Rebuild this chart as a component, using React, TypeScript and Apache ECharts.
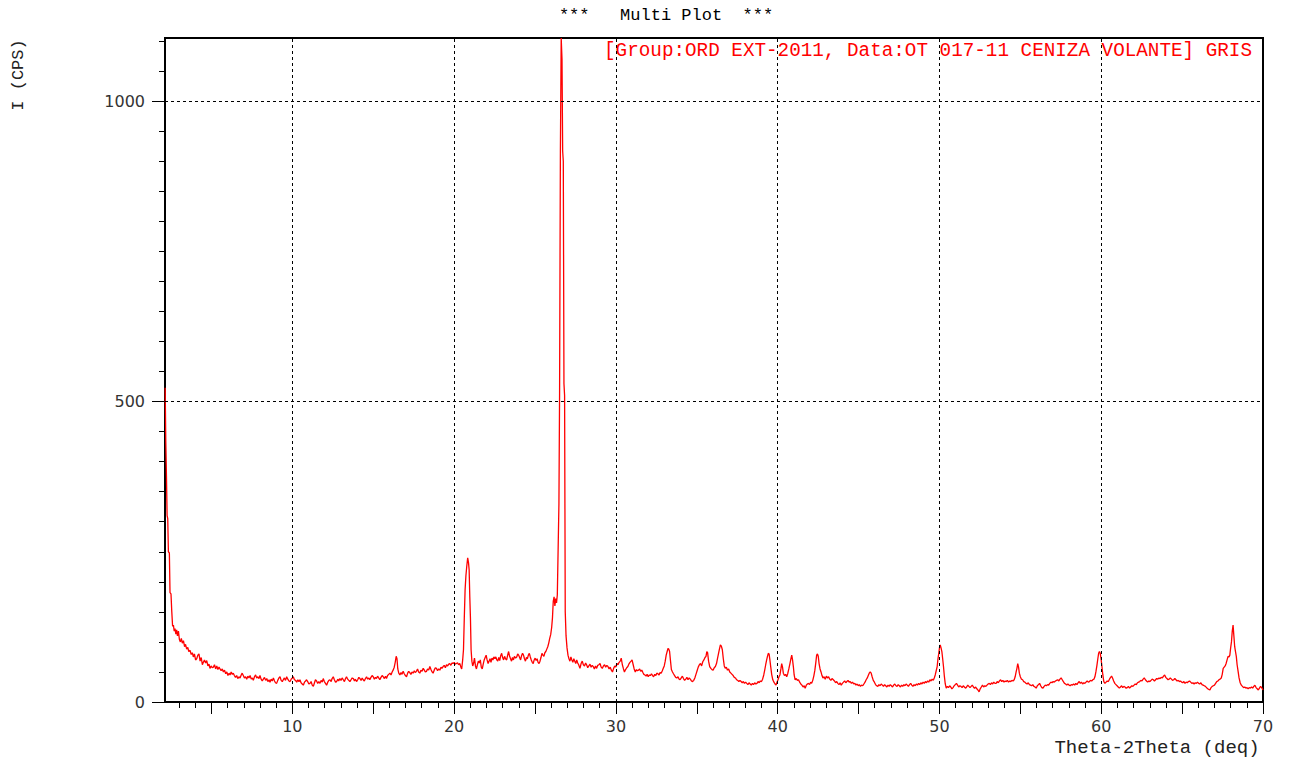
import React, { useEffect, useRef } from "react";
import * as echarts from "echarts";

// Diffractogram: [2θ (deg), intensity (CPS)]
const scanLow: [number, number][] = [
  [2.14, 523], [2.18, 432], [2.22, 376], [2.26, 310], [2.3, 305], [2.34, 250], [2.4, 248], [2.44, 182],
  [2.5, 180], [2.55, 150], [2.6, 126], [2.65, 128], [2.7, 118], [2.75, 122], [2.8, 113], [2.85, 120],
  [2.9, 110], [2.96, 118], [3.02, 104], [3.08, 100], [3.14, 106], [3.2, 98], [3.27, 102], [3.34, 92],
  [3.4, 96], [3.47, 88], [3.54, 91], [3.6, 84], [3.68, 86], [3.75, 79], [3.82, 82], [3.88, 75],
  [3.95, 80], [4.02, 70], [4.09, 72], [4.16, 78], [4.23, 80], [4.3, 68], [4.37, 74], [4.44, 62],
  [4.5, 66], [4.57, 70], [4.64, 65], [4.71, 69], [4.78, 60], [4.85, 63], [4.91, 56], [4.98, 60],
  [5.05, 57], [5.12, 58], [5.19, 62], [5.26, 55], [5.33, 60], [5.4, 54], [5.47, 58], [5.53, 55],
  [5.6, 52], [5.67, 55], [5.74, 50], [5.81, 53], [5.88, 47], [5.95, 50], [6.02, 44], [6.09, 48],
  [6.15, 45], [6.22, 50], [6.29, 46], [6.35, 48], [6.42, 44], [6.49, 41], [6.56, 44], [6.63, 39],
  [6.7, 42], [6.77, 40], [6.84, 45], [6.9, 48], [6.97, 44], [7.04, 40], [7.11, 42], [7.18, 38],
  [7.25, 43], [7.32, 40], [7.39, 44], [7.46, 38], [7.53, 40], [7.59, 36], [7.66, 42], [7.73, 45],
  [7.8, 40], [7.87, 42], [7.94, 39], [8.0, 44], [8.07, 38], [8.14, 35], [8.21, 38], [8.28, 41],
  [8.35, 36], [8.42, 39], [8.49, 34], [8.56, 37], [8.62, 33], [8.69, 38], [8.76, 35], [8.83, 40],
  [8.9, 35], [8.96, 32], [9.03, 31], [9.1, 36], [9.17, 40], [9.24, 42], [9.31, 36], [9.38, 34],
  [9.44, 37], [9.51, 40], [9.58, 36], [9.65, 42], [9.72, 38], [9.79, 35], [9.86, 34], [9.93, 38],
  [10.0, 40], [10.06, 42], [10.13, 37], [10.2, 36], [10.27, 33], [10.34, 37], [10.41, 34], [10.47, 37],
  [10.54, 32], [10.61, 30], [10.68, 28], [10.75, 33], [10.82, 35], [10.88, 37], [10.95, 34], [11.02, 30],
  [11.09, 31], [11.16, 34], [11.23, 28], [11.3, 26], [11.37, 32], [11.43, 37], [11.5, 35], [11.57, 31],
  [11.64, 34], [11.71, 31], [11.78, 36], [11.85, 33], [11.91, 39], [11.98, 34], [12.05, 31], [12.12, 28],
  [12.19, 33], [12.26, 36], [12.33, 37], [12.4, 34], [12.46, 39], [12.53, 42], [12.6, 37], [12.67, 33],
  [12.74, 34], [12.81, 38], [12.87, 35], [12.94, 39], [13.01, 36], [13.08, 40], [13.15, 37], [13.22, 34],
  [13.29, 39], [13.35, 42], [13.42, 38], [13.49, 36], [13.56, 34], [13.63, 37], [13.7, 40], [13.77, 39],
  [13.84, 35], [13.9, 38], [13.97, 34], [14.04, 37], [14.11, 41], [14.18, 39], [14.25, 36], [14.32, 40],
  [14.38, 37], [14.45, 35], [14.52, 39], [14.59, 42], [14.66, 38], [14.73, 40], [14.79, 37], [14.86, 41],
  [14.93, 44], [15.0, 42], [15.07, 38], [15.14, 41], [15.2, 39], [15.27, 43], [15.34, 40], [15.41, 37],
  [15.48, 41], [15.55, 44], [15.62, 42], [15.69, 39], [15.76, 43], [15.82, 39], [15.89, 44], [15.96, 46],
];

const scanQuartz: [number, number][] = [
  [16.03, 48], [16.1, 45], [16.17, 50], [16.23, 53], [16.3, 58], [16.36, 66], [16.42, 76], [16.47, 72],
  [16.52, 55], [16.58, 48], [16.65, 45], [16.72, 49], [16.78, 46], [16.85, 51], [16.92, 47], [16.99, 44],
  [17.06, 42], [17.13, 48], [17.19, 51], [17.26, 49], [17.33, 46], [17.4, 50], [17.47, 48], [17.54, 52],
  [17.6, 49], [17.67, 51], [17.74, 55], [17.81, 50], [17.88, 48], [17.95, 53], [18.02, 51], [18.09, 56],
  [18.16, 53], [18.22, 50], [18.29, 51], [18.36, 55], [18.43, 53], [18.5, 59], [18.57, 54], [18.64, 50],
  [18.7, 48], [18.77, 53], [18.84, 57], [18.91, 56], [18.98, 52], [19.05, 55], [19.12, 53], [19.19, 58],
  [19.25, 56], [19.32, 59], [19.39, 61], [19.46, 57], [19.53, 62], [19.6, 60], [19.67, 63], [19.73, 64],
  [19.8, 61], [19.87, 65], [19.94, 64], [20.01, 66], [20.07, 63], [20.14, 64], [20.21, 65], [20.28, 62],
  [20.35, 64], [20.42, 58], [20.47, 55], [20.53, 70], [20.58, 87], [20.63, 140], [20.68, 187], [20.73, 210],
  [20.78, 225], [20.84, 240], [20.89, 232], [20.93, 220], [20.97, 175], [21.01, 140], [21.05, 87], [21.1, 68],
  [21.15, 60], [21.2, 64], [21.26, 73], [21.32, 60], [21.38, 55], [21.44, 62], [21.5, 68], [21.56, 65],
  [21.62, 70], [21.68, 58], [21.74, 55], [21.8, 63], [21.86, 70], [21.92, 74], [21.98, 78], [22.04, 70],
  [22.1, 64], [22.16, 68], [22.22, 72], [22.28, 66], [22.34, 73], [22.4, 70], [22.46, 75], [22.52, 72],
  [22.58, 75], [22.64, 70], [22.7, 68], [22.76, 74], [22.82, 69], [22.88, 77], [22.94, 81], [23.0, 74],
  [23.06, 70], [23.12, 76], [23.18, 72], [23.25, 70], [23.31, 78], [23.37, 84], [23.43, 76], [23.49, 72],
  [23.55, 68], [23.61, 74], [23.67, 70], [23.73, 76], [23.8, 73], [23.87, 75], [23.93, 80], [23.99, 78],
  [24.05, 74], [24.11, 70], [24.17, 77], [24.23, 81], [24.29, 78], [24.35, 72], [24.41, 68], [24.47, 74],
  [24.53, 72], [24.59, 78], [24.65, 81], [24.71, 75], [24.77, 70], [24.83, 66], [24.89, 64], [24.95, 70],
  [25.01, 73], [25.07, 69], [25.13, 72], [25.19, 66], [25.25, 64], [25.31, 68], [25.37, 74], [25.43, 81],
  [25.49, 78], [25.55, 76], [25.61, 82], [25.67, 84], [25.73, 88], [25.79, 92], [25.85, 98], [25.91, 106],
  [25.97, 112], [26.03, 124], [26.08, 140], [26.13, 168], [26.18, 175], [26.23, 160], [26.28, 172], [26.33, 165],
  [26.38, 178], [26.43, 254], [26.48, 330], [26.52, 513], [26.57, 916], [26.62, 1105], [26.67, 1070], [26.71, 917],
  [26.75, 900], [26.79, 530], [26.83, 510], [26.87, 150], [26.92, 110], [26.98, 90], [27.04, 78], [27.1, 72],
  [27.16, 68], [27.22, 75], [27.28, 70], [27.34, 66], [27.4, 72], [27.46, 68], [27.52, 64], [27.58, 70],
  [27.64, 65], [27.7, 62], [27.78, 56], [27.85, 64], [27.92, 68], [27.99, 62], [28.06, 60], [28.13, 65],
  [28.19, 62], [28.26, 57], [28.33, 60], [28.4, 63], [28.47, 58], [28.54, 61], [28.6, 59], [28.67, 55],
  [28.74, 60], [28.81, 56], [28.88, 61], [28.95, 62], [29.02, 64], [29.09, 58], [29.16, 56], [29.23, 60],
  [29.3, 62], [29.37, 58], [29.44, 61], [29.51, 59], [29.58, 55], [29.65, 58], [29.72, 53], [29.79, 50],
  [29.86, 56], [29.93, 60],
];

const scanMid: [number, number][] = [
  [30.0, 58], [30.06, 64], [30.13, 62], [30.2, 66], [30.27, 68], [30.33, 73], [30.4, 62], [30.47, 55],
  [30.53, 50], [30.6, 54], [30.67, 57], [30.74, 59], [30.8, 63], [30.87, 66], [30.94, 68], [31.0, 70],
  [31.07, 62], [31.13, 55], [31.2, 50], [31.27, 54], [31.33, 52], [31.4, 53], [31.47, 55], [31.53, 51],
  [31.6, 53], [31.67, 49], [31.73, 46], [31.8, 45], [31.87, 43], [31.93, 46], [32.0, 42], [32.07, 45],
  [32.13, 44], [32.2, 47], [32.27, 44], [32.33, 42], [32.4, 46], [32.47, 44], [32.53, 48], [32.6, 47],
  [32.67, 45], [32.73, 49], [32.8, 48], [32.87, 52], [32.93, 56], [32.99, 60], [33.05, 68], [33.11, 78],
  [33.17, 84], [33.22, 89], [33.27, 88], [33.32, 84], [33.37, 70], [33.43, 54], [33.5, 50], [33.56, 47],
  [33.63, 44], [33.7, 41], [33.77, 40], [33.84, 42], [33.91, 38], [33.97, 37], [34.04, 40], [34.11, 43],
  [34.18, 39], [34.25, 36], [34.32, 38], [34.39, 41], [34.46, 37], [34.53, 40], [34.6, 38], [34.67, 35],
  [34.74, 34], [34.81, 36], [34.88, 40], [34.95, 46], [35.02, 52], [35.09, 58], [35.16, 62], [35.23, 64],
  [35.3, 60], [35.37, 67], [35.44, 70], [35.51, 74], [35.57, 76], [35.62, 84], [35.67, 82], [35.73, 68],
  [35.8, 59], [35.87, 56], [35.94, 54], [36.01, 53], [36.08, 57], [36.15, 59], [36.22, 64], [36.28, 72],
  [36.34, 80], [36.4, 88], [36.46, 95], [36.52, 93], [36.58, 87], [36.64, 72], [36.7, 60], [36.76, 56],
  [36.83, 58], [36.9, 53], [36.97, 55], [37.04, 50], [37.11, 48], [37.18, 46], [37.25, 44], [37.32, 41],
  [37.39, 40], [37.46, 37], [37.53, 36], [37.6, 34], [37.67, 36], [37.74, 34], [37.81, 32], [37.88, 34],
  [37.95, 31], [38.02, 33], [38.09, 31], [38.16, 29], [38.23, 32], [38.3, 30], [38.37, 28], [38.44, 31],
  [38.51, 29], [38.58, 32], [38.65, 30], [38.72, 31], [38.79, 34], [38.86, 32], [38.93, 35], [39.0, 34],
  [39.07, 38], [39.14, 45], [39.2, 53], [39.26, 62], [39.32, 70], [39.37, 76], [39.42, 81], [39.47, 80],
  [39.52, 70], [39.57, 59], [39.63, 46], [39.7, 37], [39.77, 33], [39.84, 30], [39.9, 28], [39.96, 33],
  [40.02, 37], [40.08, 42], [40.14, 45], [40.2, 55], [40.25, 64], [40.3, 58], [40.35, 48], [40.42, 44],
  [40.49, 46], [40.56, 42], [40.62, 47], [40.69, 55], [40.76, 64], [40.82, 72], [40.87, 78], [40.92, 70],
  [40.97, 59], [41.02, 45], [41.08, 37], [41.15, 39], [41.22, 36], [41.29, 37], [41.36, 33], [41.43, 30],
  [41.5, 28], [41.57, 25], [41.64, 27], [41.7, 23], [41.77, 28], [41.84, 30], [41.9, 31], [41.97, 29],
  [42.04, 33], [42.1, 31], [42.17, 36], [42.24, 44], [42.3, 53], [42.36, 66], [42.41, 78], [42.46, 80],
  [42.51, 76], [42.56, 64], [42.62, 55], [42.68, 50], [42.74, 44], [42.8, 40], [42.87, 42], [42.94, 38],
  [43.01, 43], [43.08, 40], [43.15, 42], [43.22, 38], [43.29, 36], [43.36, 39], [43.44, 37], [43.51, 35],
  [43.58, 32], [43.65, 34], [43.72, 31], [43.79, 29], [43.86, 32], [43.93, 28], [44.0, 31], [44.07, 33],
  [44.14, 35], [44.21, 32], [44.28, 34], [44.35, 36], [44.42, 33], [44.49, 34], [44.56, 31], [44.63, 33],
  [44.7, 30], [44.77, 31], [44.84, 28], [44.91, 30], [44.98, 27], [45.05, 29], [45.12, 26], [45.19, 28],
  [45.26, 27], [45.33, 30], [45.4, 33], [45.47, 37], [45.54, 40], [45.6, 44], [45.66, 48], [45.72, 50],
  [45.78, 48], [45.84, 42], [45.91, 36], [45.98, 33], [46.05, 29], [46.12, 27], [46.19, 26], [46.26, 29],
  [46.33, 27], [46.4, 30], [46.47, 28], [46.54, 26], [46.61, 29], [46.68, 27], [46.75, 25], [46.82, 28],
  [46.89, 26], [46.96, 29], [47.03, 27], [47.1, 25], [47.17, 28], [47.24, 30], [47.31, 27], [47.38, 26],
  [47.45, 29], [47.52, 27], [47.59, 25], [47.66, 28], [47.73, 26], [47.8, 29], [47.87, 27], [47.94, 30],
  [48.01, 28], [48.08, 26], [48.15, 29], [48.22, 31], [48.29, 28], [48.36, 26], [48.43, 29], [48.5, 27],
  [48.57, 30], [48.64, 28], [48.71, 31], [48.78, 29], [48.85, 32], [48.92, 30], [48.99, 33], [49.06, 31],
  [49.13, 34], [49.2, 32], [49.27, 35], [49.34, 33], [49.41, 37], [49.48, 35], [49.55, 38], [49.62, 36],
  [49.68, 40], [49.74, 45], [49.8, 52], [49.86, 59], [49.91, 72], [49.96, 81],
];

const scanHigh: [number, number][] = [
  [50.01, 92], [50.05, 95], [50.1, 90], [50.15, 84], [50.2, 72], [50.25, 59], [50.3, 44], [50.36, 30],
  [50.42, 23], [50.49, 26], [50.56, 24], [50.63, 27], [50.7, 25], [50.77, 22], [50.84, 24], [50.91, 27],
  [50.98, 29], [51.05, 31], [51.12, 28], [51.19, 25], [51.26, 27], [51.33, 26], [51.4, 24], [51.47, 27],
  [51.54, 25], [51.61, 23], [51.68, 25], [51.75, 28], [51.82, 26], [51.89, 24], [51.96, 26], [52.03, 28],
  [52.1, 25], [52.17, 23], [52.24, 25], [52.31, 22], [52.38, 20], [52.45, 17], [52.52, 22], [52.59, 25],
  [52.66, 28], [52.73, 25], [52.8, 27], [52.87, 26], [52.94, 28], [53.01, 30], [53.08, 31], [53.15, 29],
  [53.22, 32], [53.29, 30], [53.36, 33], [53.43, 31], [53.5, 31], [53.57, 34], [53.64, 32], [53.71, 35],
  [53.78, 37], [53.85, 34], [53.92, 36], [53.99, 33], [54.06, 35], [54.13, 34], [54.2, 36], [54.27, 33],
  [54.34, 35], [54.41, 34], [54.48, 36], [54.55, 35], [54.62, 37], [54.68, 42], [54.74, 50], [54.79, 56],
  [54.84, 64], [54.89, 58], [54.94, 48], [55.0, 42], [55.07, 38], [55.14, 37], [55.21, 34], [55.28, 33],
  [55.35, 31], [55.42, 30], [55.49, 32], [55.56, 29], [55.63, 28], [55.7, 27], [55.77, 29], [55.84, 26],
  [55.91, 25], [55.98, 23], [56.05, 27], [56.12, 29], [56.19, 31], [56.26, 27], [56.33, 24], [56.4, 23],
  [56.47, 26], [56.54, 28], [56.61, 27], [56.68, 29], [56.75, 28], [56.82, 31], [56.89, 33], [56.96, 32],
  [57.03, 34], [57.1, 33], [57.17, 35], [57.24, 36], [57.31, 37], [57.38, 35], [57.45, 38], [57.52, 40],
  [57.59, 37], [57.66, 34], [57.73, 31], [57.8, 30], [57.87, 28], [57.94, 30], [58.01, 28], [58.08, 27],
  [58.15, 29], [58.22, 28], [58.29, 30], [58.36, 28], [58.43, 31], [58.5, 29], [58.57, 32], [58.64, 34],
  [58.71, 31], [58.78, 33], [58.85, 30], [58.92, 32], [58.99, 31], [59.06, 33], [59.13, 35], [59.2, 33],
  [59.27, 34], [59.34, 36], [59.41, 35], [59.48, 37], [59.55, 38], [59.61, 42], [59.67, 50], [59.73, 60],
  [59.79, 72], [59.84, 81], [59.89, 84], [59.94, 81], [59.99, 72], [60.04, 60], [60.1, 45], [60.16, 34],
  [60.23, 31], [60.3, 33], [60.37, 35], [60.44, 34], [60.51, 38], [60.58, 41], [60.64, 43], [60.7, 40],
  [60.77, 35], [60.84, 31], [60.91, 29], [60.98, 27], [61.05, 25], [61.12, 23], [61.19, 25], [61.26, 27],
  [61.33, 24], [61.4, 26], [61.47, 25], [61.54, 23], [61.61, 24], [61.68, 26], [61.75, 23], [61.82, 25],
  [61.89, 27], [61.96, 26], [62.03, 28], [62.1, 30], [62.17, 29], [62.24, 32], [62.31, 33], [62.38, 34],
  [62.45, 36], [62.52, 35], [62.59, 38], [62.66, 40], [62.73, 37], [62.8, 35], [62.87, 33], [62.94, 35],
  [63.01, 34], [63.08, 36], [63.15, 38], [63.22, 37], [63.29, 35], [63.36, 37], [63.43, 39], [63.5, 38],
  [63.57, 40], [63.64, 39], [63.71, 41], [63.78, 40], [63.85, 43], [63.92, 45], [63.99, 41], [64.06, 39],
  [64.13, 37], [64.2, 38], [64.27, 40], [64.34, 38], [64.41, 36], [64.48, 37], [64.55, 39], [64.62, 37],
  [64.69, 35], [64.76, 36], [64.83, 34], [64.9, 35], [64.97, 33], [65.04, 32], [65.11, 34], [65.18, 31],
  [65.25, 33], [65.32, 32], [65.39, 34], [65.46, 35], [65.53, 33], [65.6, 31], [65.67, 32], [65.74, 30],
  [65.81, 32], [65.88, 31], [65.95, 33], [66.02, 31], [66.09, 30], [66.16, 32], [66.23, 29], [66.3, 28],
  [66.37, 27], [66.44, 26], [66.51, 24], [66.58, 22], [66.65, 21], [66.72, 20], [66.79, 24], [66.86, 26],
  [66.93, 27], [67.0, 28], [67.07, 31], [67.14, 34], [67.21, 35], [67.28, 37], [67.35, 38], [67.42, 40],
  [67.48, 46], [67.54, 56], [67.6, 58], [67.66, 60], [67.72, 64], [67.78, 70], [67.84, 76], [67.9, 75],
  [67.95, 78], [68.0, 90], [68.05, 100], [68.1, 118], [68.15, 128], [68.2, 110], [68.25, 92], [68.3, 84],
  [68.35, 76], [68.4, 62], [68.45, 53], [68.52, 40], [68.59, 32], [68.66, 28], [68.73, 26], [68.8, 24],
  [68.87, 25], [68.94, 23], [69.01, 24], [69.08, 22], [69.15, 24], [69.22, 23], [69.29, 25], [69.36, 23],
  [69.43, 26], [69.5, 28], [69.57, 24], [69.64, 22], [69.71, 20], [69.78, 23], [69.85, 26], [69.92, 24],
  [70.0, 20],
];

const pattern = [...scanLow, ...scanQuartz, ...scanMid, ...scanHigh];

// Axis ranges and tick positions
const X_MIN = 2.13;
const X_MAX = 70;
const Y_MIN = 0;
const Y_MAX = 1105;
const xLabelValues = [10, 20, 30, 40, 50, 60, 70];
const xMajorTickValues = [5, 10, 15, 20, 25, 30, 35, 40, 45, 50, 55, 60, 65, 70];
const xMinorTickValues = Array.from({ length: 68 }, (_, i) => i + 3);
const xGridValues = [10, 20, 30, 40, 50, 60];
const yLabelValues = [0, 500, 1000];
const yMinorTickValues = Array.from({ length: 23 }, (_, i) => i * 50);
const yGridValues = [500, 1000];

const TITLE = "***   Multi Plot  ***";
const SAMPLE = "[Group:ORD EXT-2011, Data:OT 017-11 CENIZA VOLANTE] GRIS";
const X_NAME = "Theta-2Theta (deq)";
const Y_NAME = "I (CPS)";

const MONO = '"Liberation Mono", "DejaVu Sans Mono", monospace';
const SANS = '"DejaVu Sans", "Liberation Sans", sans-serif';

export default function App() {
  const ref = useRef<HTMLDivElement>(null);

  useEffect(() => {
    if (!ref.current) return;
    const chart = echarts.init(ref.current, undefined, { renderer: "svg" });

    const hiddenX = {
      type: "value",
      min: X_MIN,
      max: X_MAX,
      position: "bottom",
      axisLine: { show: false },
      axisLabel: { show: false },
      splitLine: { show: false },
    };
    const hiddenY = {
      type: "value",
      min: Y_MIN,
      max: Y_MAX,
      position: "left",
      axisLine: { show: false },
      axisLabel: { show: false },
      splitLine: { show: false },
    };

    chart.setOption({
      animation: false,
      backgroundColor: "#ffffff",
      grid: {
        left: 165,
        right: 26,
        top: 38,
        bottom: 59,
        show: true,
        borderColor: "#000",
        borderWidth: 2,
        backgroundColor: "transparent",
      },
      xAxis: [
        {
          ...hiddenX,
          axisLine: { show: true, onZero: false, lineStyle: { color: "#000", width: 2 } },
          axisTick: { show: false },
        },
        {
          ...hiddenX,
          axisTick: {
            show: true,
            inside: false,
            length: 6,
            customValues: xMinorTickValues,
            lineStyle: { color: "#000", width: 1 },
          },
        },
        {
          ...hiddenX,
          axisTick: {
            show: true,
            inside: false,
            length: 12,
            customValues: xMajorTickValues,
            lineStyle: { color: "#000", width: 1 },
          },
          axisLabel: {
            show: true,
            customValues: xLabelValues,
            margin: 16,
            color: "#333",
            fontFamily: SANS,
            fontSize: 16,
            formatter: (v: number) => String(Math.round(v)),
          },
        },
      ],
      yAxis: [
        {
          ...hiddenY,
          axisLine: { show: true, onZero: false, lineStyle: { color: "#000", width: 2 } },
          axisTick: { show: false },
        },
        {
          ...hiddenY,
          axisTick: {
            show: true,
            inside: false,
            length: 6,
            customValues: yMinorTickValues,
            lineStyle: { color: "#000", width: 1 },
          },
        },
        {
          ...hiddenY,
          axisTick: {
            show: true,
            inside: false,
            length: 13,
            customValues: yLabelValues,
            lineStyle: { color: "#000", width: 1 },
          },
          axisLabel: {
            show: true,
            customValues: yLabelValues,
            margin: 20,
            color: "#333",
            fontFamily: SANS,
            fontSize: 16,
            formatter: (v: number) => String(Math.round(v)),
          },
        },
      ],
      series: [
        {
          name: "grid",
          type: "line",
          xAxisIndex: 0,
          yAxisIndex: 0,
          z: 1,
          data: [[X_MIN, 0]],
          showSymbol: false,
          lineStyle: { opacity: 0 },
          silent: true,
          markLine: {
            silent: true,
            symbol: ["none", "none"],
            label: { show: false },
            lineStyle: { color: "#000", width: 1, type: [3, 3] },
            data: [
              ...xGridValues.map((v) => ({ xAxis: v })),
              ...yGridValues.map((v) => ({ yAxis: v })),
            ],
          },
        },
        {
          name: SAMPLE,
          type: "line",
          xAxisIndex: 0,
          yAxisIndex: 0,
          z: 3,
          data: pattern,
          showSymbol: false,
          symbol: "none",
          clip: true,
          lineStyle: { color: "#ff0000", width: 1.3 },
        },
      ],
      graphic: [
        {
          type: "text",
          x: 666,
          y: 15,
          style: {
            text: TITLE,
            font: `17px ${MONO}`,
            fill: "#000",
            align: "center",
            verticalAlign: "middle",
          },
        },
        {
          type: "text",
          x: 1252,
          y: 51,
          z: 10,
          style: {
            text: SAMPLE,
            font: `19.3px ${MONO}`,
            fill: "#ff0000",
            align: "right",
            verticalAlign: "middle",
          },
        },
        {
          type: "text",
          x: 18,
          y: 75,
          rotation: Math.PI / 2,
          style: {
            text: Y_NAME,
            font: `17px ${MONO}`,
            fill: "#222",
            align: "center",
            verticalAlign: "middle",
          },
        },
        {
          type: "text",
          x: 1157,
          y: 748,
          style: {
            text: X_NAME,
            font: `19px ${MONO}`,
            fill: "#222",
            align: "center",
            verticalAlign: "middle",
          },
        },
      ],
    });

    return () => chart.dispose();
  }, []);

  return (
    <div
      ref={ref}
      style={{ position: "absolute", left: 0, top: 0, width: 1289, height: 761, background: "#fff" }}
    />
  );
}
